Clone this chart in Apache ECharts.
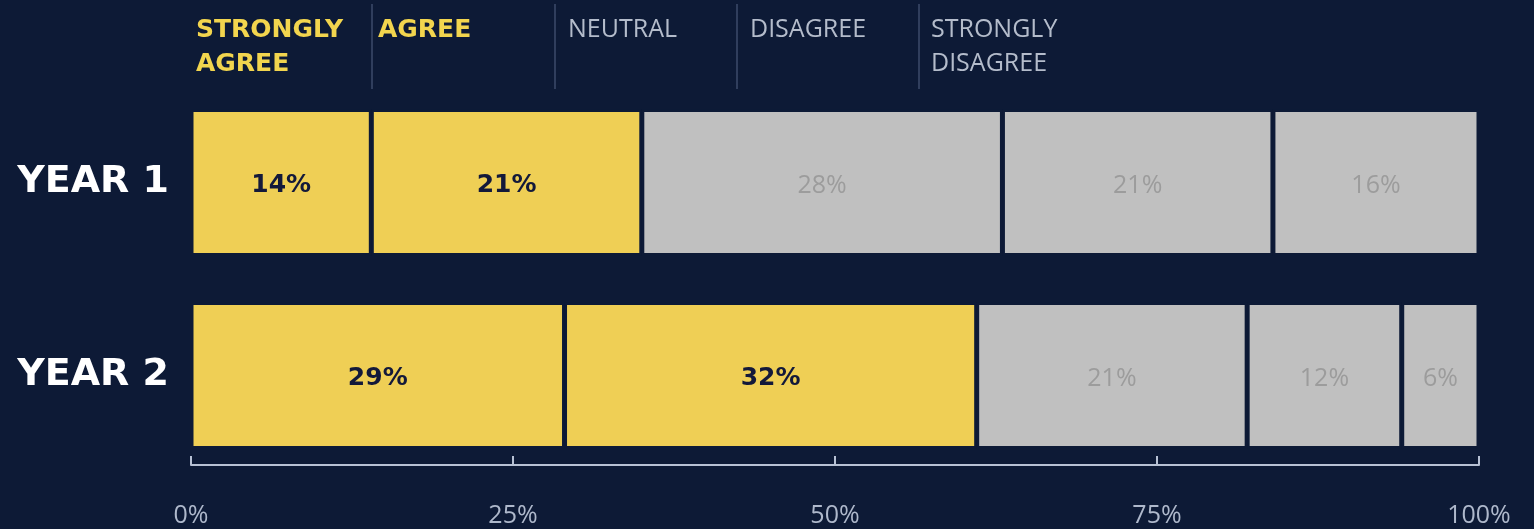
<!DOCTYPE html>
<html><head><meta charset="utf-8">
<script src="https://cdn.jsdelivr.net/npm/echarts@6/dist/echarts.min.js"></script>
<style>html,body{margin:0;padding:0;background:#0d1a36;}#c{width:1534px;height:529px;}</style>
</head><body><div id="c"></div>
<script>
const years = ['YEAR 1', 'YEAR 2'];
const responses = ['STRONGLY\nAGREE', 'AGREE', 'NEUTRAL', 'DISAGREE', 'STRONGLY\nDISAGREE'];
const stronglyAgree = [14, 29];
const agree = [21, 32];
const neutral = [28, 21];
const disagree = [21, 12];
const stronglyDisagree = [16, 6];
const xTicks = [0, 25, 50, 75, 100];

const BG = '#0d1a36';
const YELLOW = '#efcf55';
const GREY = '#c0c0c0';
const HEAVY = '"DejaVu Sans"';
const LIGHT = '"Liberation Sans Narrow", "Open Sans"';
const values = [stronglyAgree, agree, neutral, disagree, stronglyDisagree];
const colors = [YELLOW, YELLOW, GREY, GREY, GREY];

const series = values.map((v, i) => ({
  name: responses[i],
  type: 'bar',
  stack: 'total',
  barWidth: 146,
  data: v,
  itemStyle: { color: colors[i], borderColor: BG, borderWidth: 2.5 },
  label: {
    show: true, position: 'inside', formatter: '{c}%', offset: [0, 3],
    fontSize: i < 2 ? 25 : 25,
    fontFamily: i < 2 ? 'DejaVu Sans' : 'Liberation Sans Narrow, Open Sans',
    fontWeight: i < 2 ? 'bold' : 'normal',
    color: i < 2 ? '#13193a' : '#9c9c9c'
  }
}));

// header legend
const headerX = [196, 378, 568, 750, 931];
const lineX = [372, 555, 737, 919];
const graphic = [];
responses.forEach((r, i) => {
  const yel = i < 2;
  graphic.push({
    type: 'text', left: headerX[i], top: yel ? 13 : 13,
    style: {
      text: r, fill: yel ? '#f2d54e' : '#b4bccb',
      font: (yel ? 'bold 25px ' + HEAVY : 'normal 25px ' + LIGHT),
      lineHeight: 34
    }
  });
});
lineX.forEach(x => graphic.push({
  type: 'line', shape: { x1: x, y1: 4, x2: x, y2: 89 },
  style: { stroke: '#3d4b6b', lineWidth: 1.5 }
}));

const chart = echarts.init(document.getElementById('c'));
chart.setOption({
  backgroundColor: BG,
  animation: false,
  grid: { left: 191, right: 55, top: 86, bottom: 57 },
  xAxis: {
    type: 'value', min: 0, max: 100, interval: 25, offset: -7,
    axisLine: { show: true, lineStyle: { color: '#b7c1d4', width: 2 } },
    axisTick: { show: true, inside: true, length: 9, lineStyle: { color: '#b7c1d4', width: 2 } },
    splitLine: { show: false },
    axisLabel: {
      margin: 38, color: '#aeb8cb', fontSize: 25,
      fontFamily: 'Liberation Sans Narrow, Open Sans',
      formatter: v => xTicks.includes(v) ? v + '%' : ''
    }
  },
  yAxis: {
    type: 'category', data: years, inverse: true,
    axisLine: { show: false }, axisTick: { show: false },
    axisLabel: { margin: 22, color: '#ffffff', fontSize: 38, fontWeight: 'bold', fontFamily: 'DejaVu Sans' }
  },
  graphic: graphic,
  series: series
});
</script></body></html>
